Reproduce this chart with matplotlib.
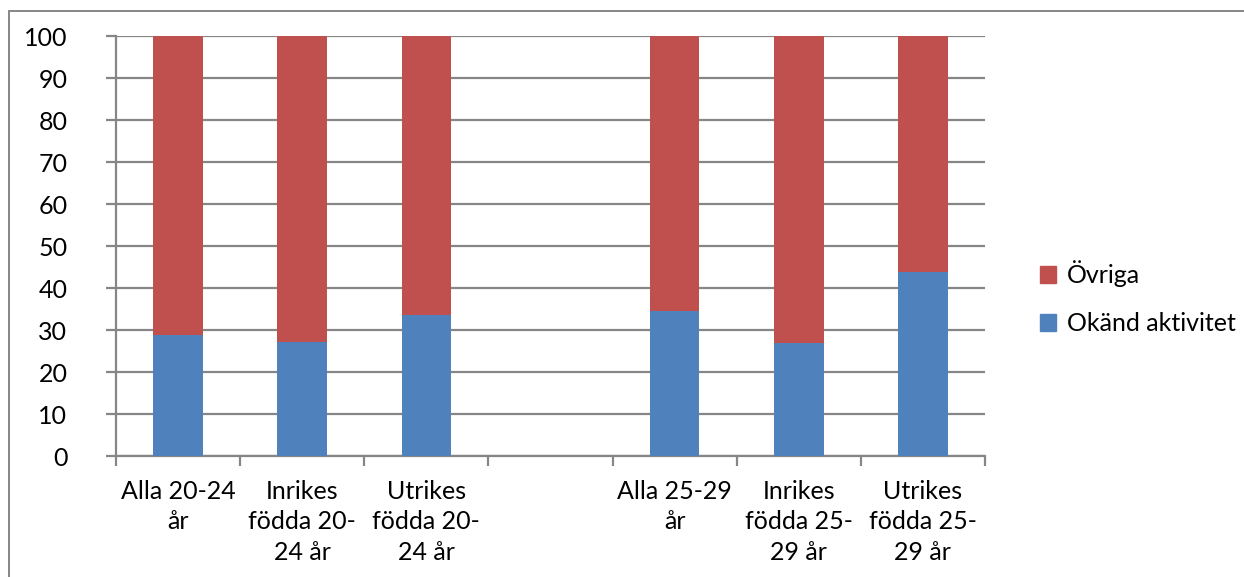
import matplotlib
matplotlib.use("Agg")
import matplotlib.pyplot as plt
from matplotlib.patches import Rectangle, Patch

categories = ["Alla 20-24\når", "Inrikes\nfödda 20-\n24 år", "Utrikes\nfödda 20-\n24 år", "",
              "Alla 25-29\når", "Inrikes\nfödda 25-\n29 år", "Utrikes\nfödda 25-\n29 år"]
okand = [28.8, 27.2, 33.5, None, 34.5, 26.8, 43.9]
ovriga = [None if v is None else 100 - v for v in okand]
yticks = list(range(0, 101, 10))

blue = "#4F81BD"
red = "#C0504D"
grid = "#868686"

plt.rcParams['font.family'] = ['Lato', 'DejaVu Sans']

W, H = 1244, 577
fig = plt.figure(figsize=(W / 100, H / 100), dpi=100)
ax = fig.add_axes([116 / W, 1 - 456 / H, (985 - 116) / W, (456 - 36) / H])

xs = [i for i, v in enumerate(okand) if v is not None]
b = [okand[i] for i in xs]
r = [ovriga[i] for i in xs]
bw = 0.4
ax.bar(xs, b, width=bw, color=blue, zorder=3)
ax.bar(xs, r, bottom=b, width=bw, color=red, zorder=3)

ax.set_xlim(-0.5, len(categories) - 0.5)
ax.set_ylim(0, 100)
ax.set_yticks(yticks)
ax.set_yticklabels([str(t) for t in yticks], fontsize=18)
ax.yaxis.grid(True, color=grid, linewidth=1.6, zorder=0)
ax.set_xticks([i - 0.5 for i in range(len(categories) + 1)])
ax.set_xticklabels([])
ax.set_xticks(range(len(categories)), minor=True)
ax.set_xticklabels(categories, minor=True, fontsize=18, linespacing=1.4)
ax.tick_params(axis='x', which='minor', length=0, pad=17)
ax.tick_params(axis='x', which='major', length=7, width=1.6, color=grid, direction='out')
ax.tick_params(axis='y', length=7, width=1.6, color=grid, pad=28)
for s in ['top', 'right']:
    ax.spines[s].set_visible(False)
for s in ['left', 'bottom']:
    ax.spines[s].set_color(grid)
    ax.spines[s].set_linewidth(1.6)

handles = [Patch(color=red, label="Övriga"), Patch(color=blue, label="Okänd aktivitet")]
fig.legend(handles=handles, loc='center left', bbox_to_anchor=(1022 / W, 1 - 298 / H),
           frameon=False, fontsize=18, handlelength=0.65, handleheight=0.65,
           handletextpad=0.45, labelspacing=1.0, borderpad=0.2)

fig.patches.append(Rectangle((9 / W, -0.1), 2, 1 - 11 / H + 0.1, transform=fig.transFigure,
                             fill=False, edgecolor=grid, linewidth=1.4))

fig.savefig("out.png", dpi=100)
